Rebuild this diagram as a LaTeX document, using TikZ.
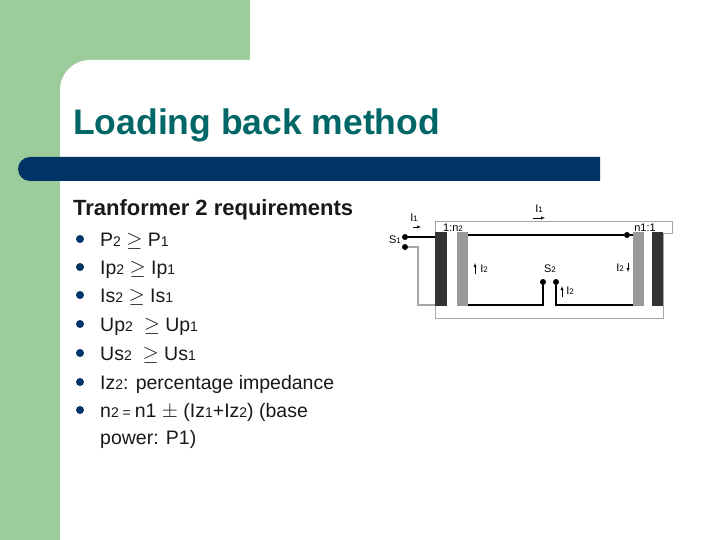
\documentclass[tikz,border=0pt]{standalone}
\usepackage{fontspec}
\setmainfont{Liberation Sans}
\begin{document}
\begin{tikzpicture}[x=1pt,y=-1pt,
 every node/.style={inner sep=0pt},
 bul/.style={circle,fill=navy,minimum size=8pt},
 item/.style={anchor=base west,font=\fontsize{19.5}{22}\selectfont,text=black!90},
 small/.style={font=\fontsize{11}{12}\selectfont},
 wire/.style={line width=1.3pt},
 gwire/.style={line width=1.3pt,gray!70},
 dot/.style={circle,fill=black,minimum size=6pt}]
\definecolor{navy}{RGB}{0,51,102}
\definecolor{sage}{RGB}{156,204,156}
\definecolor{teal2}{RGB}{0,102,102}
\useasboundingbox (0,0) rectangle (720,540);
\fill[sage] (0,0) rectangle (250,540);
\fill[white,rounded corners=30pt] (60,60) rectangle (760,580);
\node[anchor=base west,font=\bfseries\fontsize{35.5}{38}\selectfont,text=teal2] (title) at (73,135) {Loading back method};
\fill[navy] (30,157) -- (600,157) -- (600,181) -- (30,181) arc[start angle=270,end angle=90,radius=12pt] -- cycle;
\node[anchor=base west,font=\bfseries\fontsize{22}{24}\selectfont,text=black!90] (req) at (73,215) {Tranformer 2 requirements};
\foreach \y/\t [count=\i] in {246/{P{\fontsize{14}{14}\selectfont 2} $\geq$ P{\fontsize{14}{14}\selectfont 1}},
 274/{Ip{\fontsize{14}{14}\selectfont 2} $\geq$ Ip{\fontsize{14}{14}\selectfont 1}},
 302/{Is{\fontsize{14}{14}\selectfont 2} $\geq$ Is{\fontsize{14}{14}\selectfont 1}},
 331/{Up{\fontsize{14}{14}\selectfont 2} \ $\geq$ Up{\fontsize{14}{14}\selectfont 1}},
 360/{Us{\fontsize{14}{14}\selectfont 2} \ $\geq$ Us{\fontsize{14}{14}\selectfont 1}},
 389/{Iz{\fontsize{14}{14}\selectfont 2}: percentage impedance},
 417/{n{\fontsize{14}{14}\selectfont 2 = }n1 $\pm$ (Iz{\fontsize{14}{14}\selectfont 1}+Iz{\fontsize{14}{14}\selectfont 2}) (base}}{
 \node[bul] (b\i) at (80,\y-7) {};
 \node[item] (t\i) at (100,\y) {\t};
}
\node[item] (t8) at (100,444) {power: P1)};
% circuit
\draw[gray!70,line width=1pt] (435,222) -- (672,222) -- (672,233) -- (663,233) -- (663,318) -- (435,318) -- cycle;
\fill[black!80] (435,232) rectangle (447,306);
\fill[black!80] (652,232) rectangle (663,306);
\fill[gray!80] (457,232) rectangle (468,306);
\fill[gray!80] (633,232) rectangle (644,306);
\node[dot] (d1) at (627,235) {};
\node[dot] (d2) at (543,282) {};
\node[dot] (d3) at (556,282) {};
\node[dot] (s1a) at (405,237) {};
\node[dot] (s1b) at (405,247) {};
\coordinate (tl) at (468,235);
\coordinate (lb) at (468,305);
\coordinate (rb) at (633,305);
\coordinate (lc) at (435,237);
\coordinate (lc2) at (435,305);
\draw[wire] (tl) -- (d1) -- (633,235);
\draw[wire] (lb) -| (d2);
\draw[wire] (rb) -| (d3);
\draw[wire] (s1a) -- (lc);
\draw[gwire] (s1b) -- (418,247) |- (lc2);
\node[small] (s1) at (395,240) {S{\fontsize{8}{8}\selectfont 1}};
\node[small] (s2) at (550,269) {S{\fontsize{8}{8}\selectfont 2}};
\node[small] (i1a) at (414,218) {I{\fontsize{8}{8}\selectfont 1}};
\draw[-latex] (413,227) -- (421,227);
\node[small] (i1b) at (539,209) {I{\fontsize{8}{8}\selectfont 1}};
\draw[-latex] (533,218) -- (545,218);
\node[small] (r1) at (453,228) {1:n{\fontsize{8}{8}\selectfont 2}};
\node[small] (r2) at (645,228) {n1:1};
\node[small] (i2a) at (484,269) {I{\fontsize{8}{8}\selectfont 2}};
\draw[-latex] (475,274) -- (475,263);
\node[small] (i2b) at (620,268) {I{\fontsize{8}{8}\selectfont 2}};
\draw[-latex] (628,263) -- (628,272);
\node[small] (i2c) at (570,291) {I{\fontsize{8}{8}\selectfont 2}};
\draw[-latex] (562,297) -- (562,286);
\end{tikzpicture}
\end{document}
